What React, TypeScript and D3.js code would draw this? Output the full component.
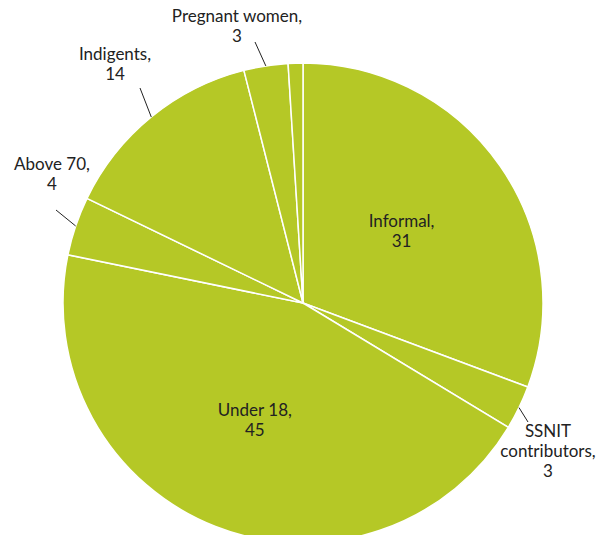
import * as d3 from 'd3';
import React from 'react';

const categories = ['Informal', 'SSNIT contributors', 'Under 18', 'Above 70', 'Indigents', 'Pregnant women', 'Other'];
const values = [31, 3, 45, 4, 14, 3, 1];
const labelLines = [['Informal,', '31'], ['SSNIT', 'contributors,', '3'], ['Under 18,', '45'], ['Above 70,', '4'], ['Indigents,', '14'], ['Pregnant women,', '3'], []];

const W = 606, H = 543;
const cx = 303, cy = 303, R = 240;

// label placement per slice: inside (radius factor) or outside with leader line
const place: any[] = [
  { inside: true, r: 0.5, dx: 0, dy: -8 },
  { inside: false, tx: 548, ty: 437, kx: 528, ky: 422 },
  { inside: true, r: 0.55, dx: 0, dy: -10 },
  { inside: false, tx: 52, ty: 170, kx: 56, ky: 210 },
  { inside: false, tx: 115, ty: 60, kx: 140, ky: 88 },
  { inside: false, tx: 237, ty: 22, kx: 255, ky: 42 },
  null,
];

export default function App() {
  const pie = d3.pie<number>().sort(null)(values);
  const arc = d3.arc<any>().innerRadius(0).outerRadius(R);
  return (
    <svg width={W} height={H} style={{ display: 'block', margin: '-8px' }} fontFamily="Lato, sans-serif" fontSize={17}>
      <g transform={`translate(${cx},${cy})`}>
        {pie.map((p, i) => (
          <path key={i} d={arc(p) as string} fill="#b5c826" stroke="#fff" strokeWidth={1.5} />
        ))}
      </g>
      {pie.map((p, i) => {
        const pl = place[i];
        if (!pl) return null;
        const lines = labelLines[i];
        if (pl.inside) {
          const [x, y] = d3.arc<any>().innerRadius(0).outerRadius(R * pl.r * 2).centroid(p);
          return (
            <text key={i} x={cx + x + pl.dx} y={cy + y + pl.dy} textAnchor="middle" fill="#222">
              {lines.map((l, j) => <tspan key={j} x={cx + x + pl.dx} dy={j === 0 ? 0 : 20}>{l}</tspan>)}
            </text>
          );
        }
        const mid = (p.startAngle + p.endAngle) / 2;
        const ex = cx + Math.sin(mid) * R, ey = cy - Math.cos(mid) * R;
        return (
          <g key={i}>
            <polyline points={`${ex},${ey} ${pl.kx},${pl.ky}`} fill="none" stroke="#222" strokeWidth={1} />
            <text x={pl.tx} y={pl.ty} textAnchor="middle" fill="#222">
              {lines.map((l, j) => <tspan key={j} x={pl.tx} dy={j === 0 ? 0 : 20}>{l}</tspan>)}
            </text>
          </g>
        );
      })}
    </svg>
  );
}
